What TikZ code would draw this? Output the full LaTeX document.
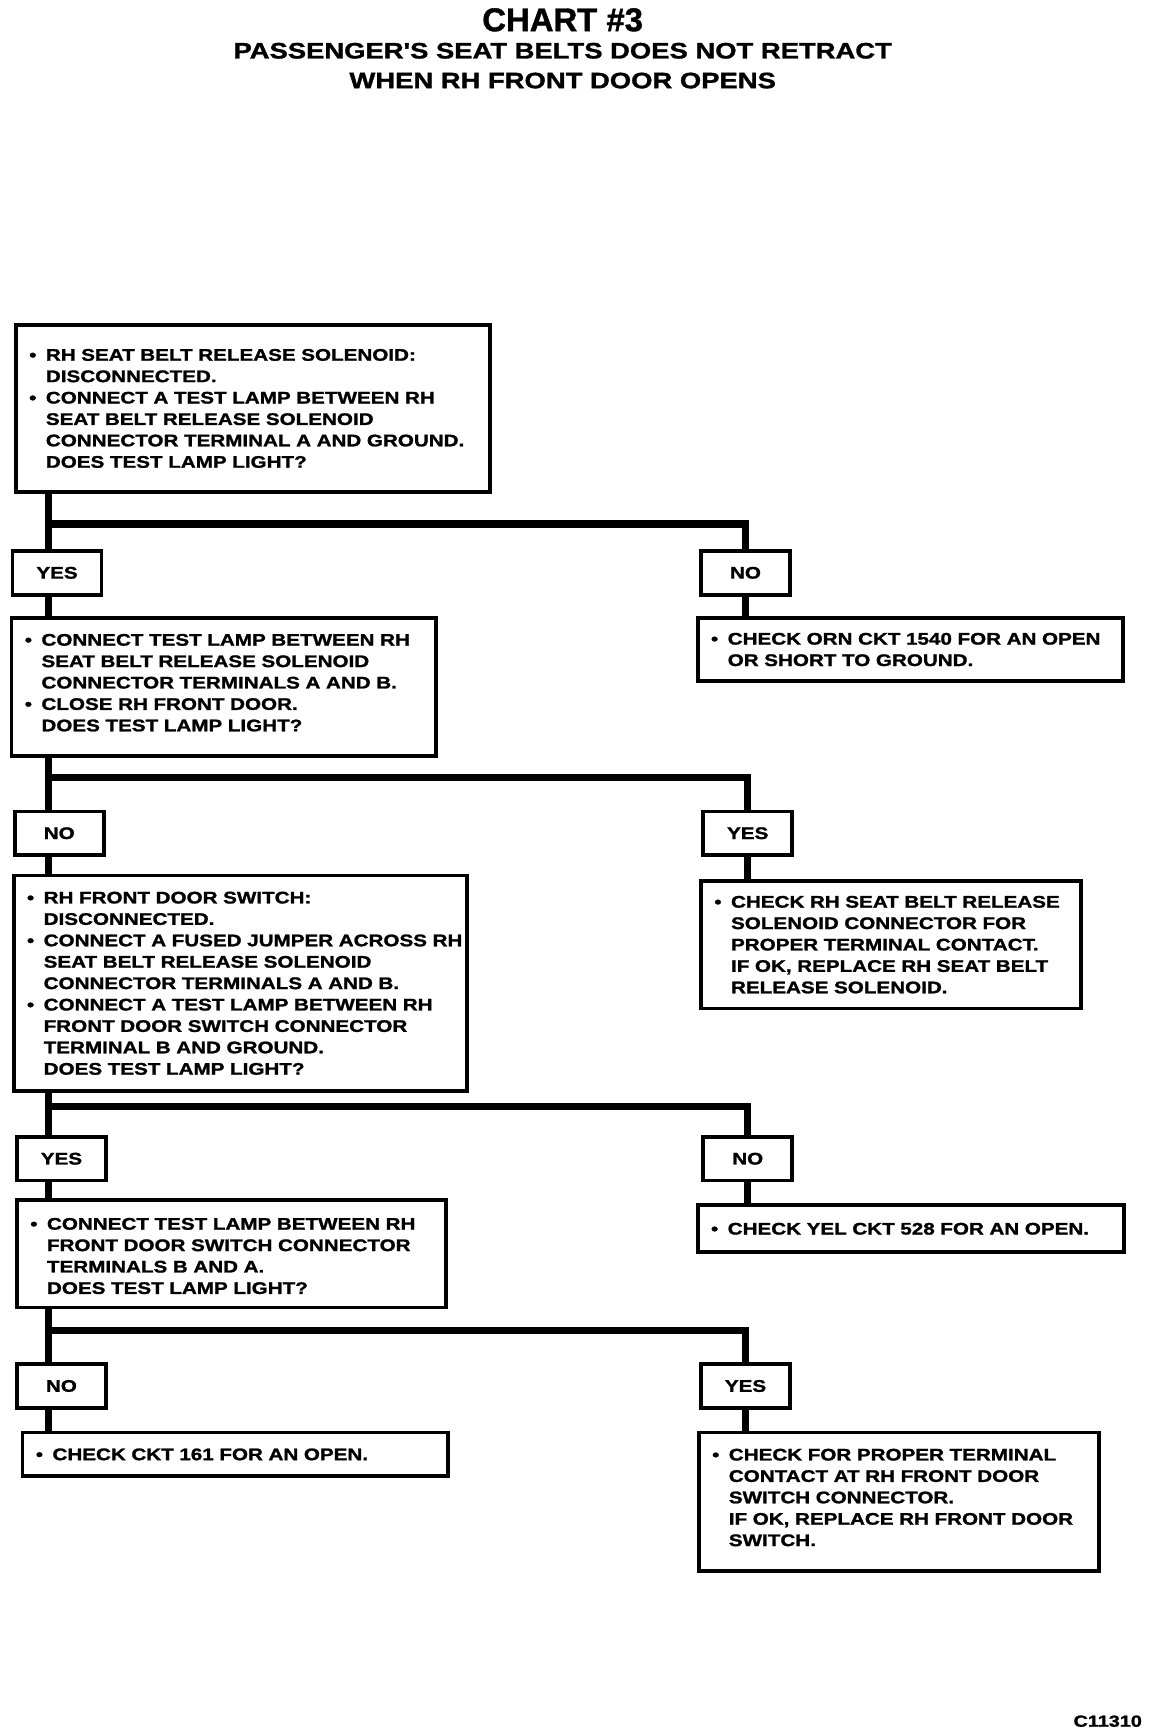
\documentclass[tikz,border=0pt]{standalone}
\usepackage{fontspec}
\setmainfont{Liberation Sans}
\newfontfamily\chartfont{Liberation Sans Bold}[FakeStretch=1.23,FakeBold=1.4]
\newfontfamily\headfont{Liberation Sans Bold}[FakeBold=1.2]
\newcommand{\bul}{\leavevmode\llap{•\hspace{4.3pt}}}
\usetikzlibrary{positioning}

\begin{document}
\begin{tikzpicture}[
  x=0.5pt, y=-0.5pt,
  chartbox/.style={rectangle, draw=black, line width=1.7pt, anchor=north west,
            xshift=0.85pt, yshift=-0.85pt,
            inner xsep=0pt, text width=#1-1.7pt, align=left,
            font=\chartfont\fontsize{7.6}{9.7}\selectfont,
            execute at begin node={\leftskip=13.6pt\rightskip=-30pt plus 1fil}},
  replybox/.style={rectangle, draw=black, line width=1.7pt, anchor=north west,
            xshift=0.85pt, yshift=-0.85pt,
            minimum width=40.3pt, minimum height=19.8pt, inner sep=0pt,
            font=\chartfont\fontsize{7.6}{9.7}\selectfont},
  conn/.style={draw, line width=3.3pt}   % thick flow lines
]
  \useasboundingbox (0,0) rectangle (1044,1568);

  \node[font=\headfont\fontsize{14.9}{16}\selectfont] (title) at (510,18) {CHART \#3};
  \node[font=\chartfont\fontsize{10.1}{13.5}\selectfont, align=center] (subtitle) at (510,59.5)
    {PASSENGER'S SEAT BELTS DOES NOT RETRACT\\WHEN RH FRONT DOOR OPENS};

  \node[chartbox=216.5pt, minimum height=75.8pt] (Q1) at (11,291)
    {\bul RH SEAT BELT RELEASE SOLENOID:\\
     DISCONNECTED.\\
     \bul CONNECT A TEST LAMP BETWEEN RH\\
     SEAT BELT RELEASE SOLENOID\\
     CONNECTOR TERMINAL A AND GROUND.\\
     DOES TEST LAMP LIGHT?};

  \node[replybox] (Y1) at (8,496) {YES};
  \node[replybox] (N1) at (632,496) {NO};

  \node[chartbox=194pt, minimum height=62.3pt] (Q2) at (7,557)
    {\bul CONNECT TEST LAMP BETWEEN RH\\
     SEAT BELT RELEASE SOLENOID\\
     CONNECTOR TERMINALS A AND B.\\
     \bul CLOSE RH FRONT DOOR.\\
     DOES TEST LAMP LIGHT?\rule[-4pt]{0pt}{0pt}};
  \node[chartbox=194.5pt, minimum height=28.3pt] (R1) at (629,557)
    {\bul CHECK ORN CKT 1540 FOR AN OPEN\\
     OR SHORT TO GROUND.};

  \node[replybox] (N2) at (10,732) {NO};
  \node[replybox] (Y2) at (634,732) {YES};

  \node[chartbox=207pt, minimum height=97.8pt] (Q3) at (9,790)
    {\bul RH FRONT DOOR SWITCH:\\
     DISCONNECTED.\\
     \bul CONNECT A FUSED JUMPER ACROSS RH\\
     SEAT BELT RELEASE SOLENOID\\
     CONNECTOR TERMINALS A AND B.\\
     \bul CONNECT A TEST LAMP BETWEEN RH\\
     FRONT DOOR SWITCH CONNECTOR\\
     TERMINAL B AND GROUND.\\
     DOES TEST LAMP LIGHT?};
  \node[chartbox=174pt, minimum height=57.8pt] (R2) at (632,795)
    {\bul CHECK RH SEAT BELT RELEASE\\
     SOLENOID CONNECTOR FOR\\
     PROPER TERMINAL CONTACT.\\
     IF OK, REPLACE RH SEAT BELT\\
     RELEASE SOLENOID.};

  \node[replybox] (Y3) at (12,1027) {YES};
  \node[replybox] (N3) at (634,1027) {NO};

  \node[chartbox=196pt, minimum height=48.8pt] (Q4) at (12,1084)
    {\bul\rule{0pt}{7.5pt}CONNECT TEST LAMP BETWEEN RH\\
     FRONT DOOR SWITCH CONNECTOR\\
     TERMINALS B AND A.\\
     DOES TEST LAMP LIGHT?};
  \node[chartbox=195pt, minimum height=21.3pt] (R3) at (629,1089)
    {\bul CHECK YEL CKT 528 FOR AN OPEN.};

  \node[replybox] (N4) at (12,1233) {NO};
  \node[replybox] (Y4) at (632,1233) {YES};

  \node[chartbox=194.5pt, minimum height=19.8pt] (R4) at (17,1295)
    {\bul CHECK CKT 161 FOR AN OPEN.};
  \node[chartbox=183pt, minimum height=62.8pt] (R5) at (630,1295)
    {\bul CHECK FOR PROPER TERMINAL\\
     CONTACT AT RH FRONT DOOR\\
     SWITCH CONNECTOR.\\
     IF OK, REPLACE RH FRONT DOOR\\
     SWITCH.\rule[-4pt]{0pt}{0pt}};

  \node[font=\chartfont\fontsize{7.3}{8}\selectfont, anchor=east] (code) at (1042,1560) {C11310};

  % branch points of the flow lines
  \coordinate (b1) at (44,475);
  \coordinate (b2) at (44,705);
  \coordinate (b3) at (44,1003);
  \coordinate (b4) at (44,1206);

  \draw[conn] (Q1.south -| b1) -- (Y1.north -| b1);
  \draw[conn] (b1) -| (N1.north);
  \draw[conn] (Y1.south -| b1) -- (Q2.north -| b1);
  \draw[conn] (N1.south) -- (N1.south |- R1.north);

  \draw[conn] (Q2.south -| b2) -- (N2.north -| b2);
  \draw[conn] (b2) -| (Y2.north);
  \draw[conn] (N2.south -| b2) -- (Q3.north -| b2);
  \draw[conn] (Y2.south) -- (Y2.south |- R2.north);

  \draw[conn] (Q3.south -| b3) -- (Y3.north -| b3);
  \draw[conn] (b3) -| (N3.north);
  \draw[conn] (Y3.south -| b3) -- (Q4.north -| b3);
  \draw[conn] (N3.south) -- (N3.south |- R3.north);

  \draw[conn] (Q4.south -| b4) -- (N4.north -| b4);
  \draw[conn] (b4) -| (Y4.north);
  \draw[conn] (N4.south -| b4) -- (R4.north -| b4);
  \draw[conn] (Y4.south) -- (Y4.south |- R5.north);
\end{tikzpicture}
\end{document}
